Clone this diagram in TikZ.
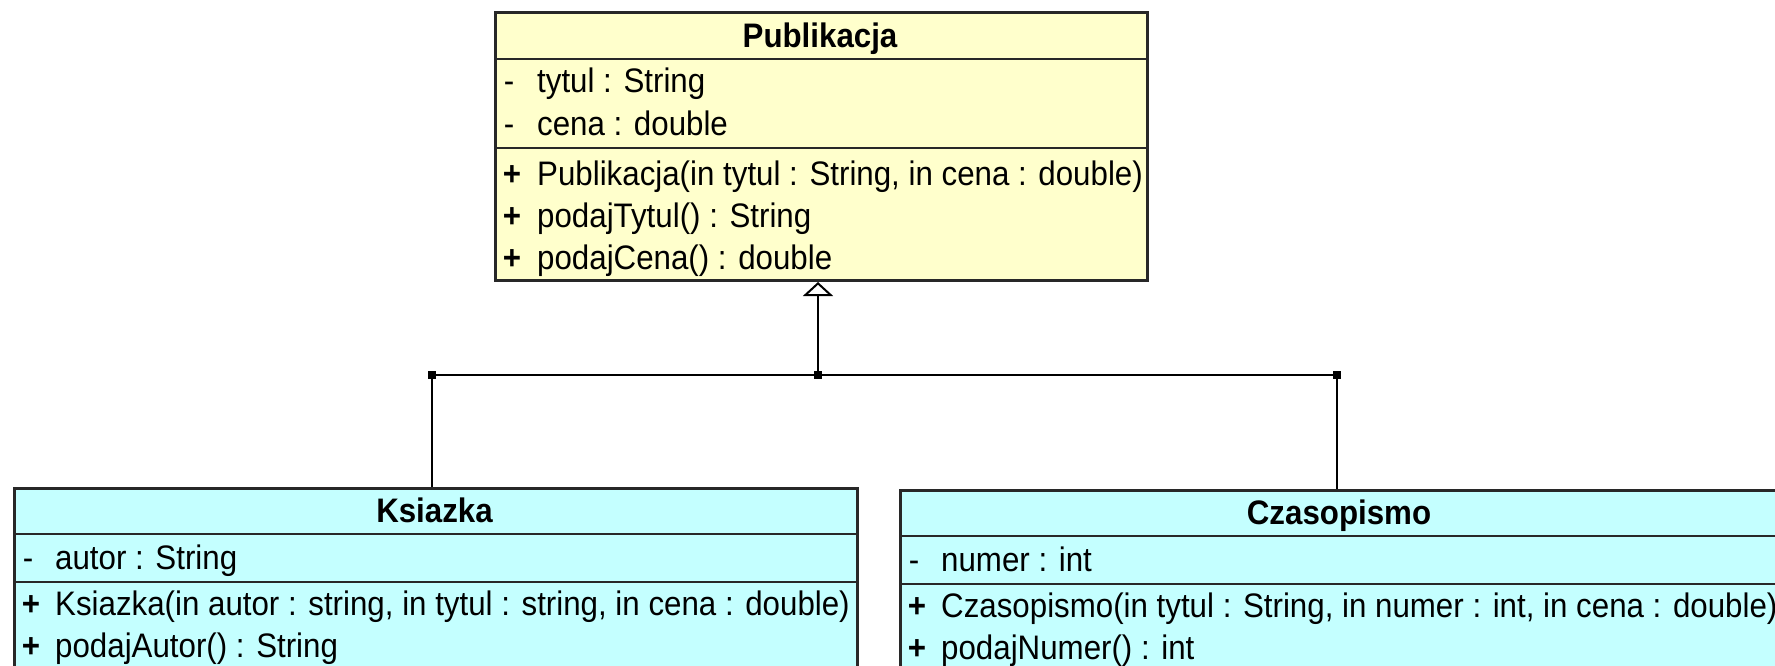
\documentclass[tikz,border=0pt]{standalone}
\usepackage{fontspec}
\setmainfont[FakeStretch=0.92]{Liberation Sans}
\usetikzlibrary{arrows.meta}
\definecolor{pubyellow}{RGB}{255,255,204}
\definecolor{subcyan}{RGB}{196,255,255}
\definecolor{edge}{RGB}{40,40,40}
\tikzset{
  umlfont/.style={font=\fontsize{34}{40}\selectfont},
  umltxt/.style={umlfont, anchor=base west, inner sep=0pt},
  umlmark/.style={umlfont, anchor=base, inner sep=0pt},
  umltitle/.style={font=\fontsize{34}{40}\selectfont\bfseries, anchor=base, inner sep=0pt},
  classbox/.style={draw=edge, line width=3pt, inner sep=0pt, anchor=north west},
  sepline/.style={draw=edge, line width=2.5pt},
  conn/.style={draw=black, line width=2.5pt},
  jdot/.style={fill=black, inner sep=0pt, minimum size=8pt},
}
\begin{document}
\begin{tikzpicture}[x=1pt, y=-1pt]
\path[use as bounding box] (0,0) rectangle (1775,665);
\clip (0,0) rectangle (1775,665);
\fill[white] (0,0) rectangle (1775,665);

% ---------- Publikacja ----------
\node[classbox, fill=pubyellow, minimum width=652pt, minimum height=268pt] (pub) at (494,11) {};
\draw[sepline] (494,59) -- (1146,59);
\draw[sepline] (494,148) -- (1146,148);
\node[umltitle] (pubT) at (820,47) {Publikacja};
\node[umlmark] (pubM1) at (509,92) {-};
\node[umltxt] (pubA1) at (537,92) {tytul : String};
\node[umlmark] (pubM2) at (509,135) {-};
\node[umltxt] (pubA2) at (537,135) {cena : double};
\node[umlmark] (pubM3) at (512,185) {\textbf{+}};
\node[umltxt] (pubO1) at (537,185) {Publikacja(in tytul : String, in cena : double)};
\node[umlmark] (pubM4) at (512,227) {\textbf{+}};
\node[umltxt] (pubO2) at (537,227) {podajTytul() : String};
\node[umlmark] (pubM5) at (512,269) {\textbf{+}};
\node[umltxt] (pubO3) at (537,269) {podajCena() : double};

% ---------- Ksiazka ----------
\node[classbox, fill=subcyan, minimum width=843pt, minimum height=280pt] (ks) at (13,487) {};
\draw[sepline] (13,534) -- (856,534);
\draw[sepline] (13,582) -- (856,582);
\node[umltitle] (ksT) at (434.5,522) {Ksiazka};
\node[umlmark] (ksM1) at (28,569) {-};
\node[umltxt] (ksA1) at (55,569) {autor : String};
\node[umlmark] (ksM2) at (31,615) {\textbf{+}};
\node[umltxt] (ksO1) at (55,615) {Ksiazka(in autor : string, in tytul : string, in cena : double)};
\node[umlmark] (ksM3) at (31,657) {\textbf{+}};
\node[umltxt] (ksO2) at (55,657) {podajAutor() : String};

% ---------- Czasopismo ----------
\node[classbox, fill=subcyan, minimum width=880pt, minimum height=280pt] (cz) at (899,489) {};
\draw[sepline] (899,536) -- (1790,536);
\draw[sepline] (899,584) -- (1790,584);
\node[umltitle] (czT) at (1339,524) {Czasopismo};
\node[umlmark] (czM1) at (914,571) {-};
\node[umltxt] (czA1) at (941,571) {numer : int};
\node[umlmark] (czM2) at (917,617) {\textbf{+}};
\node[umltxt] (czO1) at (941,617) {Czasopismo(in tytul : String, in numer : int, in cena : double)};
\node[umlmark] (czM3) at (917,659) {\textbf{+}};
\node[umltxt] (czO2) at (941,659) {podajNumer() : int};

% ---------- generalization ----------
\coordinate (jc) at (818,375);
\coordinate (jl) at (432,375);
\coordinate (jr) at (1337,375);
\draw[conn] (jl) -- (jr);
\draw[conn] (jl) -- (jl |- ks.north);
\draw[conn] (jr) -- (jr |- cz.north);
\draw[conn, -{Triangle[open, fill=white, width=30pt, length=14pt, line width=2pt]}] (jc) -- (jc |- pub.south);
\node[jdot] (dl) at (jl) {};
\node[jdot] (dc) at (jc) {};
\node[jdot] (dr) at (jr) {};
\end{tikzpicture}
\end{document}
